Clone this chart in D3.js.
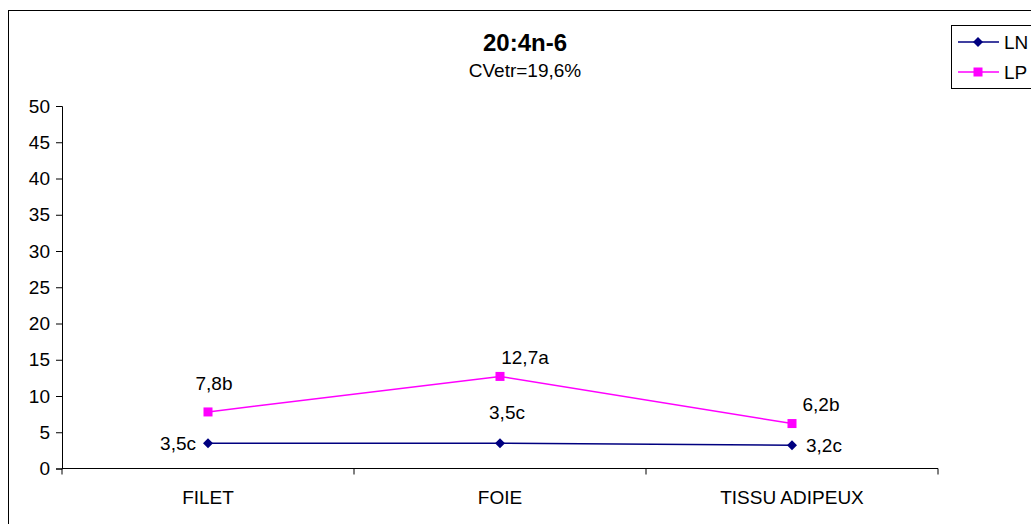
<!DOCTYPE html>
<html><head><meta charset="utf-8">
<script src="https://cdn.jsdelivr.net/npm/d3@7"></script>
<style>
html,body{margin:0;padding:0;background:#fff;overflow:hidden}
text{font-family:"Liberation Sans",Arial,sans-serif;fill:#000}
</style></head>
<body><svg id="c" width="1031" height="524"></svg>
<script>
const categories = ["FILET", "FOIE", "TISSU ADIPEUX"];
const seriesNames = ["LN", "LP"];
const lnValues = [3.5, 3.5, 3.2];
const lpValues = [7.8, 12.7, 6.2];
const lnLabels = ["3,5c", "3,5c", "3,2c"];
const lpLabels = ["7,8b", "12,7a", "6,2b"];
const yTicks = [0, 5, 10, 15, 20, 25, 30, 35, 40, 45, 50];
const title = "20:4n-6";
const subtitle = "CVetr=19,6%";

const svg = d3.select("#c");
const plot = {left: 62, right: 938, top: 106, bottom: 468.5};
const FS = "19px";

svg.append("rect").attr("x", 8.5).attr("y", 10.5).attr("width", 1100).attr("height", 600)
  .attr("fill", "#fff").attr("stroke", "#000").attr("stroke-width", 1);

const x = d3.scaleBand().domain(categories).range([plot.left, plot.right]).paddingInner(0).paddingOuter(0);
const y = d3.scaleLinear().domain([0, 50]).range([plot.bottom, plot.top]);

// Y axis
const yAxis = svg.append("g").attr("transform", `translate(${plot.left},0)`)
  .call(d3.axisLeft(y).tickValues(yTicks).tickSize(6).tickPadding(6).tickFormat(d3.format("d")));
yAxis.select(".domain").attr("stroke", "#000");
yAxis.selectAll(".tick line").attr("stroke", "#000");
yAxis.selectAll("text").style("font-size", FS).attr("fill", "#000");

// X axis line + ticks between categories
const xg = svg.append("g");
xg.append("line").attr("x1", plot.left).attr("x2", plot.right)
  .attr("y1", plot.bottom).attr("y2", plot.bottom).attr("stroke", "#000");
const bounds = categories.map(c => x(c)).concat([x(categories[categories.length - 1]) + x.bandwidth()]);
xg.selectAll(".xt").data(bounds).join("line")
  .attr("x1", d => d).attr("x2", d => d)
  .attr("y1", plot.bottom).attr("y2", plot.bottom + 6).attr("stroke", "#000");
xg.selectAll(".xl").data(categories).join("text")
  .attr("x", d => x(d) + x.bandwidth() / 2).attr("y", plot.bottom + 35)
  .attr("text-anchor", "middle").style("font-size", FS).text(d => d);

const cx = c => x(c) + x.bandwidth() / 2;
const line = d3.line().x((d, i) => cx(categories[i])).y(d => y(d));

// LN
svg.append("path").datum(lnValues).attr("d", line).attr("fill", "none")
  .attr("stroke", "#000080").attr("stroke-width", 1.5);
svg.selectAll(".lnm").data(lnValues).join("path")
  .attr("transform", (d, i) => `translate(${cx(categories[i])},${y(d)})`)
  .attr("d", "M0,-5L5,0L0,5L-5,0Z").attr("fill", "#000080");

// LP
svg.append("path").datum(lpValues).attr("d", line).attr("fill", "none")
  .attr("stroke", "#FF00FF").attr("stroke-width", 1.5);
svg.selectAll(".lpm").data(lpValues).join("rect")
  .attr("x", (d, i) => cx(categories[i]) - 4.5).attr("y", d => y(d) - 4.5)
  .attr("width", 9).attr("height", 9).attr("fill", "#FF00FF");

// Data labels (placement: dx, dy, anchor)
const lnPlace = [[-12, 0, "end"], [7, -31, "middle"], [14, 0, "start"]];
const lpPlace = [[6, -29, "middle"], [25, -19, "middle"], [29, -19, "middle"]];
function labels(vals, texts, place) {
  svg.append("g").selectAll("text").data(vals).join("text")
    .attr("x", (d, i) => cx(categories[i]) + place[i][0])
    .attr("y", (d, i) => y(d) + place[i][1])
    .attr("dy", "0.35em").attr("text-anchor", (d, i) => place[i][2])
    .style("font-size", FS).text((d, i) => texts[i]);
}
labels(lnValues, lnLabels, lnPlace);
labels(lpValues, lpLabels, lpPlace);

// Title
svg.append("text").attr("x", 525).attr("y", 51).attr("text-anchor", "middle")
  .style("font-size", "24px").style("font-weight", "bold").text(title);
svg.append("text").attr("x", 525).attr("y", 77).attr("text-anchor", "middle")
  .style("font-size", FS).text(subtitle);

// Legend
const lg = svg.append("g");
lg.append("rect").attr("x", 951.5).attr("y", 25.5).attr("width", 120).attr("height", 63)
  .attr("fill", "#fff").attr("stroke", "#000");
const lcol = ["#000080", "#FF00FF"];
seriesNames.forEach((s, i) => {
  const ly = 42 + i * 30;
  lg.append("line").attr("x1", 958).attr("x2", 999).attr("y1", ly).attr("y2", ly)
    .attr("stroke", lcol[i]).attr("stroke-width", 1.5);
  if (i === 0) lg.append("path").attr("transform", `translate(978,${ly})`)
    .attr("d", "M0,-5L5,0L0,5L-5,0Z").attr("fill", lcol[i]);
  else lg.append("rect").attr("x", 973.5).attr("y", ly - 4.5).attr("width", 9).attr("height", 9).attr("fill", lcol[i]);
  lg.append("text").attr("x", 1004).attr("y", ly).attr("dy", "0.35em")
    .style("font-size", FS).text(s);
});
</script></body></html>
